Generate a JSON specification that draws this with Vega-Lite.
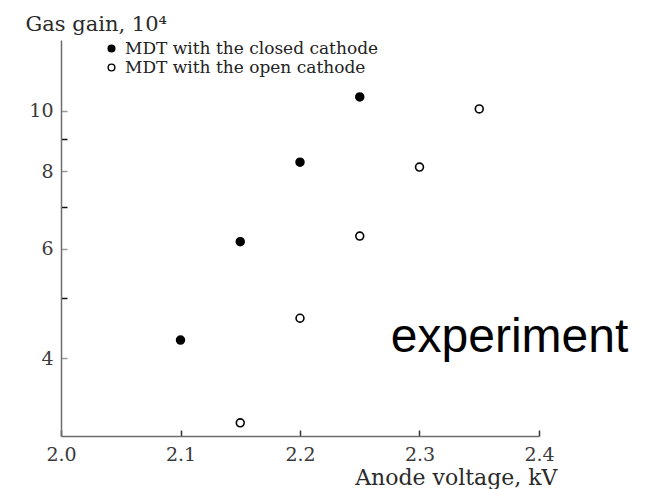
{
  "$schema": "https://vega.github.io/schema/vega-lite/v6.json",
  "width": 478,
  "height": 396,
  "autosize": {"type": "none"},
  "padding": {"left": 61, "top": 40, "right": 109, "bottom": 53},
  "background": "white",
  "config": {
    "view": {"stroke": null},
    "font": "DejaVu Serif",
    "axis": {
      "grid": false,
      "domainColor": "#6e6e6e",
      "domainWidth": 1.5,
      "labelFont": "DejaVu Serif",
      "labelColor": "#3a3a3a",
      "titleFont": "DejaVu Serif",
      "titleColor": "#2a2a2a",
      "titleFontWeight": "normal"
    }
  },
  "datasets": {
    "gain": [
      {"voltage": 2.10, "gain": 4.28, "cathode": "MDT with the closed cathode"},
      {"voltage": 2.15, "gain": 6.16, "cathode": "MDT with the closed cathode"},
      {"voltage": 2.20, "gain": 8.27, "cathode": "MDT with the closed cathode"},
      {"voltage": 2.25, "gain": 10.53, "cathode": "MDT with the closed cathode"},
      {"voltage": 2.15, "gain": 3.15, "cathode": "MDT with the open cathode"},
      {"voltage": 2.20, "gain": 4.64, "cathode": "MDT with the open cathode"},
      {"voltage": 2.25, "gain": 6.29, "cathode": "MDT with the open cathode"},
      {"voltage": 2.30, "gain": 8.12, "cathode": "MDT with the open cathode"},
      {"voltage": 2.35, "gain": 10.07, "cathode": "MDT with the open cathode"}
    ],
    "note": [
      {"label": "experiment"}
    ]
  },
  "layer": [
    {
      "data": {"name": "gain"},
      "mark": {"type": "circle", "size": 62, "strokeWidth": 1.6, "opacity": 1},
      "encoding": {
        "x": {
          "field": "voltage",
          "type": "quantitative",
          "scale": {"domain": [2.0, 2.4], "nice": false, "zero": false},
          "axis": {
            "values": [2.0, 2.1, 2.2, 2.3, 2.4],
            "format": ".1f",
            "tickSize": -6,
            "tickWidth": 1.5,
            "tickColor": "#333333",
            "labelFontSize": 19,
            "labelPadding": 15,
            "labelFlush": false,
            "title": "Anode voltage, kV",
            "titleFontSize": 22,
            "titleAnchor": "end",
            "titleAlign": "right",
            "titleBaseline": "alphabetic",
            "titleX": 496,
            "titleY": 48
          }
        },
        "y": {
          "field": "gain",
          "type": "quantitative",
          "scale": {"type": "log", "domain": [3, 13], "nice": false},
          "axis": {
            "values": [4, 5, 6, 7, 8, 9, 10],
            "labelExpr": "datum.value % 2 == 1 ? '' : datum.label",
            "tickSize": -6,
            "tickWidth": 1.5,
            "tickColor": {"condition": {"test": "datum.value % 2 == 1", "value": "#111111"}, "value": "#9a9a9a"},
            "labelFontSize": 19,
            "labelPadding": 14,
            "labelFlush": false,
            "title": "Gas gain, 10⁴",
            "titleFontSize": 21,
            "titleAngle": 0,
            "titleAlign": "left",
            "titleBaseline": "alphabetic",
            "titleX": -36,
            "titleY": -10
          }
        },
        "fill": {
          "field": "cathode",
          "type": "nominal",
          "scale": {
            "domain": ["MDT with the closed cathode", "MDT with the open cathode"],
            "range": ["#000000", "#ffffff"]
          },
          "legend": {
            "title": null,
            "orient": "none",
            "legendX": 42,
            "legendY": 0,
            "padding": 0,
            "symbolType": "circle",
            "symbolSize": 45,
            "symbolStrokeColor": "#000000",
            "symbolStrokeWidth": 1.4,
            "labelFont": "DejaVu Serif",
            "labelFontSize": 17,
            "labelColor": "#222222",
            "labelOffset": 5,
            "labelLimit": 0,
            "rowPadding": 1
          }
        },
        "stroke": {"value": "#000000"}
      }
    },
    {
      "data": {"name": "note"},
      "mark": {
        "type": "text",
        "font": "Liberation Sans",
        "fontSize": 48,
        "align": "left",
        "baseline": "alphabetic",
        "color": "#000000"
      },
      "encoding": {
        "text": {"field": "label", "type": "nominal"},
        "x": {"datum": 2.276, "type": "quantitative"},
        "y": {"datum": 4.1, "type": "quantitative"}
      }
    }
  ]
}
